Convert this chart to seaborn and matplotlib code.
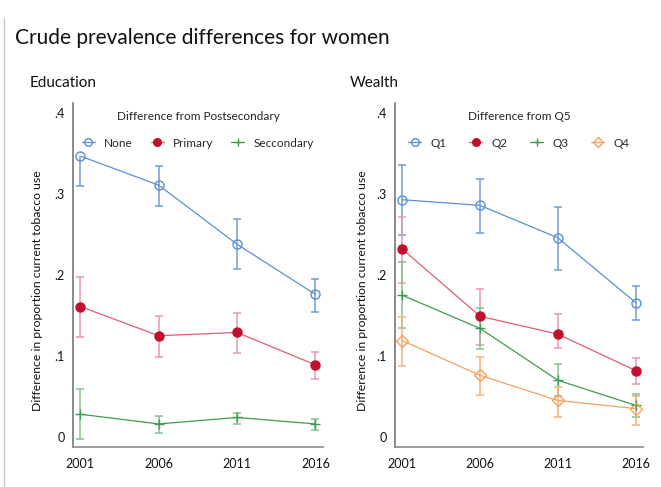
import matplotlib
matplotlib.use("Agg")
import matplotlib.pyplot as plt
from matplotlib.lines import Line2D
from matplotlib.ticker import FixedLocator, FixedFormatter
import pandas as pd
import seaborn as sns

years = [2001, 2006, 2011, 2016]

# education: difference from postsecondary
edu_groups = ["None", "Primary", "Seccondary"]
edu_none = [0.347, 0.311, 0.238, 0.176]
edu_none_lo = [0.310, 0.285, 0.207, 0.154]
edu_none_hi = [0.384, 0.335, 0.269, 0.195]
edu_primary = [0.161, 0.125, 0.129, 0.089]
edu_primary_lo = [0.123, 0.099, 0.104, 0.072]
edu_primary_hi = [0.198, 0.149, 0.153, 0.105]
edu_second = [0.028, 0.016, 0.024, 0.016]
edu_second_lo = [-0.003, 0.005, 0.016, 0.009]
edu_second_hi = [0.059, 0.026, 0.030, 0.022]

# wealth: difference from Q5
wealth_groups = ["Q1", "Q2", "Q3", "Q4"]
q1 = [0.293, 0.286, 0.246, 0.166]
q1_lo = [0.249, 0.252, 0.206, 0.144]
q1_hi = [0.336, 0.319, 0.284, 0.186]
q2 = [0.232, 0.149, 0.127, 0.082]
q2_lo = [0.190, 0.113, 0.110, 0.065]
q2_hi = [0.272, 0.183, 0.152, 0.098]
q3 = [0.175, 0.134, 0.070, 0.039]
q3_lo = [0.134, 0.108, 0.050, 0.025]
q3_hi = [0.216, 0.159, 0.090, 0.053]
q4 = [0.119, 0.076, 0.045, 0.035]
q4_lo = [0.088, 0.052, 0.025, 0.015]
q4_hi = [0.148, 0.099, 0.062, 0.051]

ytick_vals = [0, 0.1, 0.2, 0.3, 0.4]
ytick_labels = ["0", ".1", ".2", ".3", ".4"]

BLUE = "#5b8fd1"
RED_LINE = "#de5e72"
RED_MARK = "#c0112e"
GREEN = "#3f9c4d"
ORANGE = "#f5a05f"
SPINE = "#8a8a8a"

# group -> (line color, marker, marker face, marker edge, error color)
styles = {
    "None": (BLUE, "o", "none", BLUE, "#6f9dd6"),
    "Primary": (RED_LINE, "o", RED_MARK, RED_MARK, "#e79aa6"),
    "Seccondary": (GREEN, "+", GREEN, GREEN, "#86c290"),
    "Q1": (BLUE, "o", "none", BLUE, "#6f9dd6"),
    "Q2": (RED_LINE, "o", RED_MARK, RED_MARK, "#e79aa6"),
    "Q3": (GREEN, "+", GREEN, GREEN, "#86c290"),
    "Q4": (ORANGE, "D", "none", ORANGE, "#f7b07a"),
}

sns.set_style("white")
plt.rcParams["font.family"] = ["Lato", "DejaVu Sans"]


def long_frame(groups, vals, los, his):
    rows = []
    for g, v, lo, hi in zip(groups, vals, los, his):
        for yr, a, b, c in zip(years, v, lo, hi):
            rows.append({"year": yr, "group": g, "value": a, "lo": b, "hi": c})
    return pd.DataFrame(rows)


df_edu = long_frame(
    edu_groups,
    [edu_none, edu_primary, edu_second],
    [edu_none_lo, edu_primary_lo, edu_second_lo],
    [edu_none_hi, edu_primary_hi, edu_second_hi],
)
df_wealth = long_frame(
    wealth_groups,
    [q1, q2, q3, q4],
    [q1_lo, q2_lo, q3_lo, q4_lo],
    [q1_hi, q2_hi, q3_hi, q4_hi],
)


def draw_panel(ax, df, groups, legend_title, ncol, colspace, label_x):
    for g in groups:
        color, marker, face, edge, ecolor = styles[g]
        sub = df[df["group"] == g]
        ax.errorbar(
            sub["year"], sub["value"],
            yerr=[sub["value"] - sub["lo"], sub["hi"] - sub["value"]],
            fmt="none", ecolor=ecolor, elinewidth=1.1, capsize=3,
            capthick=1.1, zorder=2,
        )
        sns.lineplot(
            data=sub, x="year", y="value", ax=ax, color=color,
            linewidth=0.9, errorbar=None, zorder=3, legend=False,
        )
        msize = 6.5 if marker == "o" else (6 if marker == "D" else 7)
        ax.plot(
            sub["year"], sub["value"], linestyle="none", marker=marker,
            markersize=msize, markerfacecolor=face, markeredgecolor=edge,
            markeredgewidth=1.0, zorder=15,
        )

    handles = []
    for g in groups:
        color, marker, face, edge, ecolor = styles[g]
        msize = 5.5 if marker == "o" else (5 if marker == "D" else 6)
        handles.append(Line2D(
            [0], [0], color=color, linewidth=0.9, marker=marker,
            markersize=msize, markerfacecolor=face, markeredgecolor=edge,
            markeredgewidth=1.0, label=g,
        ))
    leg = ax.legend(
        handles=handles, title=legend_title, ncol=ncol, loc="upper center",
        bbox_to_anchor=(0.5, 1.0), frameon=True, facecolor="white",
        edgecolor="none", framealpha=1, fontsize=8.5, title_fontsize=8.5,
        handlelength=1.1, handletextpad=0.8, columnspacing=colspace,
        borderaxespad=0.1, borderpad=0.6,
    )
    leg.get_title().set_color("#222222")
    leg.set_zorder(10)
    leg._legend_box.sep = 11

    ax.set_xlim(2000.53, 2016.48)
    ax.set_ylim(-0.0125, 0.4125)
    ax.xaxis.set_major_locator(FixedLocator(years))
    ax.xaxis.set_major_formatter(FixedFormatter([str(y) for y in years]))
    ax.yaxis.set_major_locator(FixedLocator(ytick_vals))
    ax.yaxis.set_major_formatter(FixedFormatter(ytick_labels))
    ax.tick_params(axis="x", length=0, pad=8, labelsize=9, labelcolor="#111111")
    ax.tick_params(axis="y", length=0, pad=6, labelsize=9, labelcolor="#111111")
    ax.set_xlabel("")
    ax.set_ylabel("Difference in proportion current tobacco use",
                  fontsize=8.8, color="#111111")
    ax.yaxis.set_label_coords(label_x, 0.455)
    for side in ["top", "right"]:
        ax.spines[side].set_visible(False)
    for side in ["left", "bottom"]:
        ax.spines[side].set_color(SPINE)
        ax.spines[side].set_linewidth(1.2)
    # redraw the y axis line above the white legend box
    ax.plot([0, 0], [0, 1], transform=ax.transAxes, color=SPINE,
            linewidth=1.2, clip_on=False, zorder=20, solid_capstyle="butt")


fig = plt.figure(figsize=(6.61, 4.87), dpi=100)
ax1 = fig.add_axes([0.1104, 0.0821, 0.3782, 0.7064])
ax2 = fig.add_axes([0.5976, 0.0821, 0.3752, 0.7064])

draw_panel(ax1, df_edu, edu_groups, "Difference from Postsecondary", 3, 1.5, -0.118)
draw_panel(ax2, df_wealth, wealth_groups, "Difference from Q5", 4, 1.9, -0.108)

fig.text(15 / 661, 1 - 38 / 487, "Crude prevalence differences for women",
         fontsize=15, va="center", ha="left", color="#111111")
fig.text(30 / 661, 1 - 83 / 487, "Education", fontsize=11,
         va="center", ha="left", color="#111111")
fig.text(350 / 661, 1 - 83 / 487, "Wealth", fontsize=11,
         va="center", ha="left", color="#111111")
fig.add_artist(Line2D([3.5 / 661, 3.5 / 661], [0, 1 - 18 / 487],
                      color="#c8c8c8", linewidth=1.0,
                      transform=fig.transFigure))

fig.savefig("out.png", dpi=100)
